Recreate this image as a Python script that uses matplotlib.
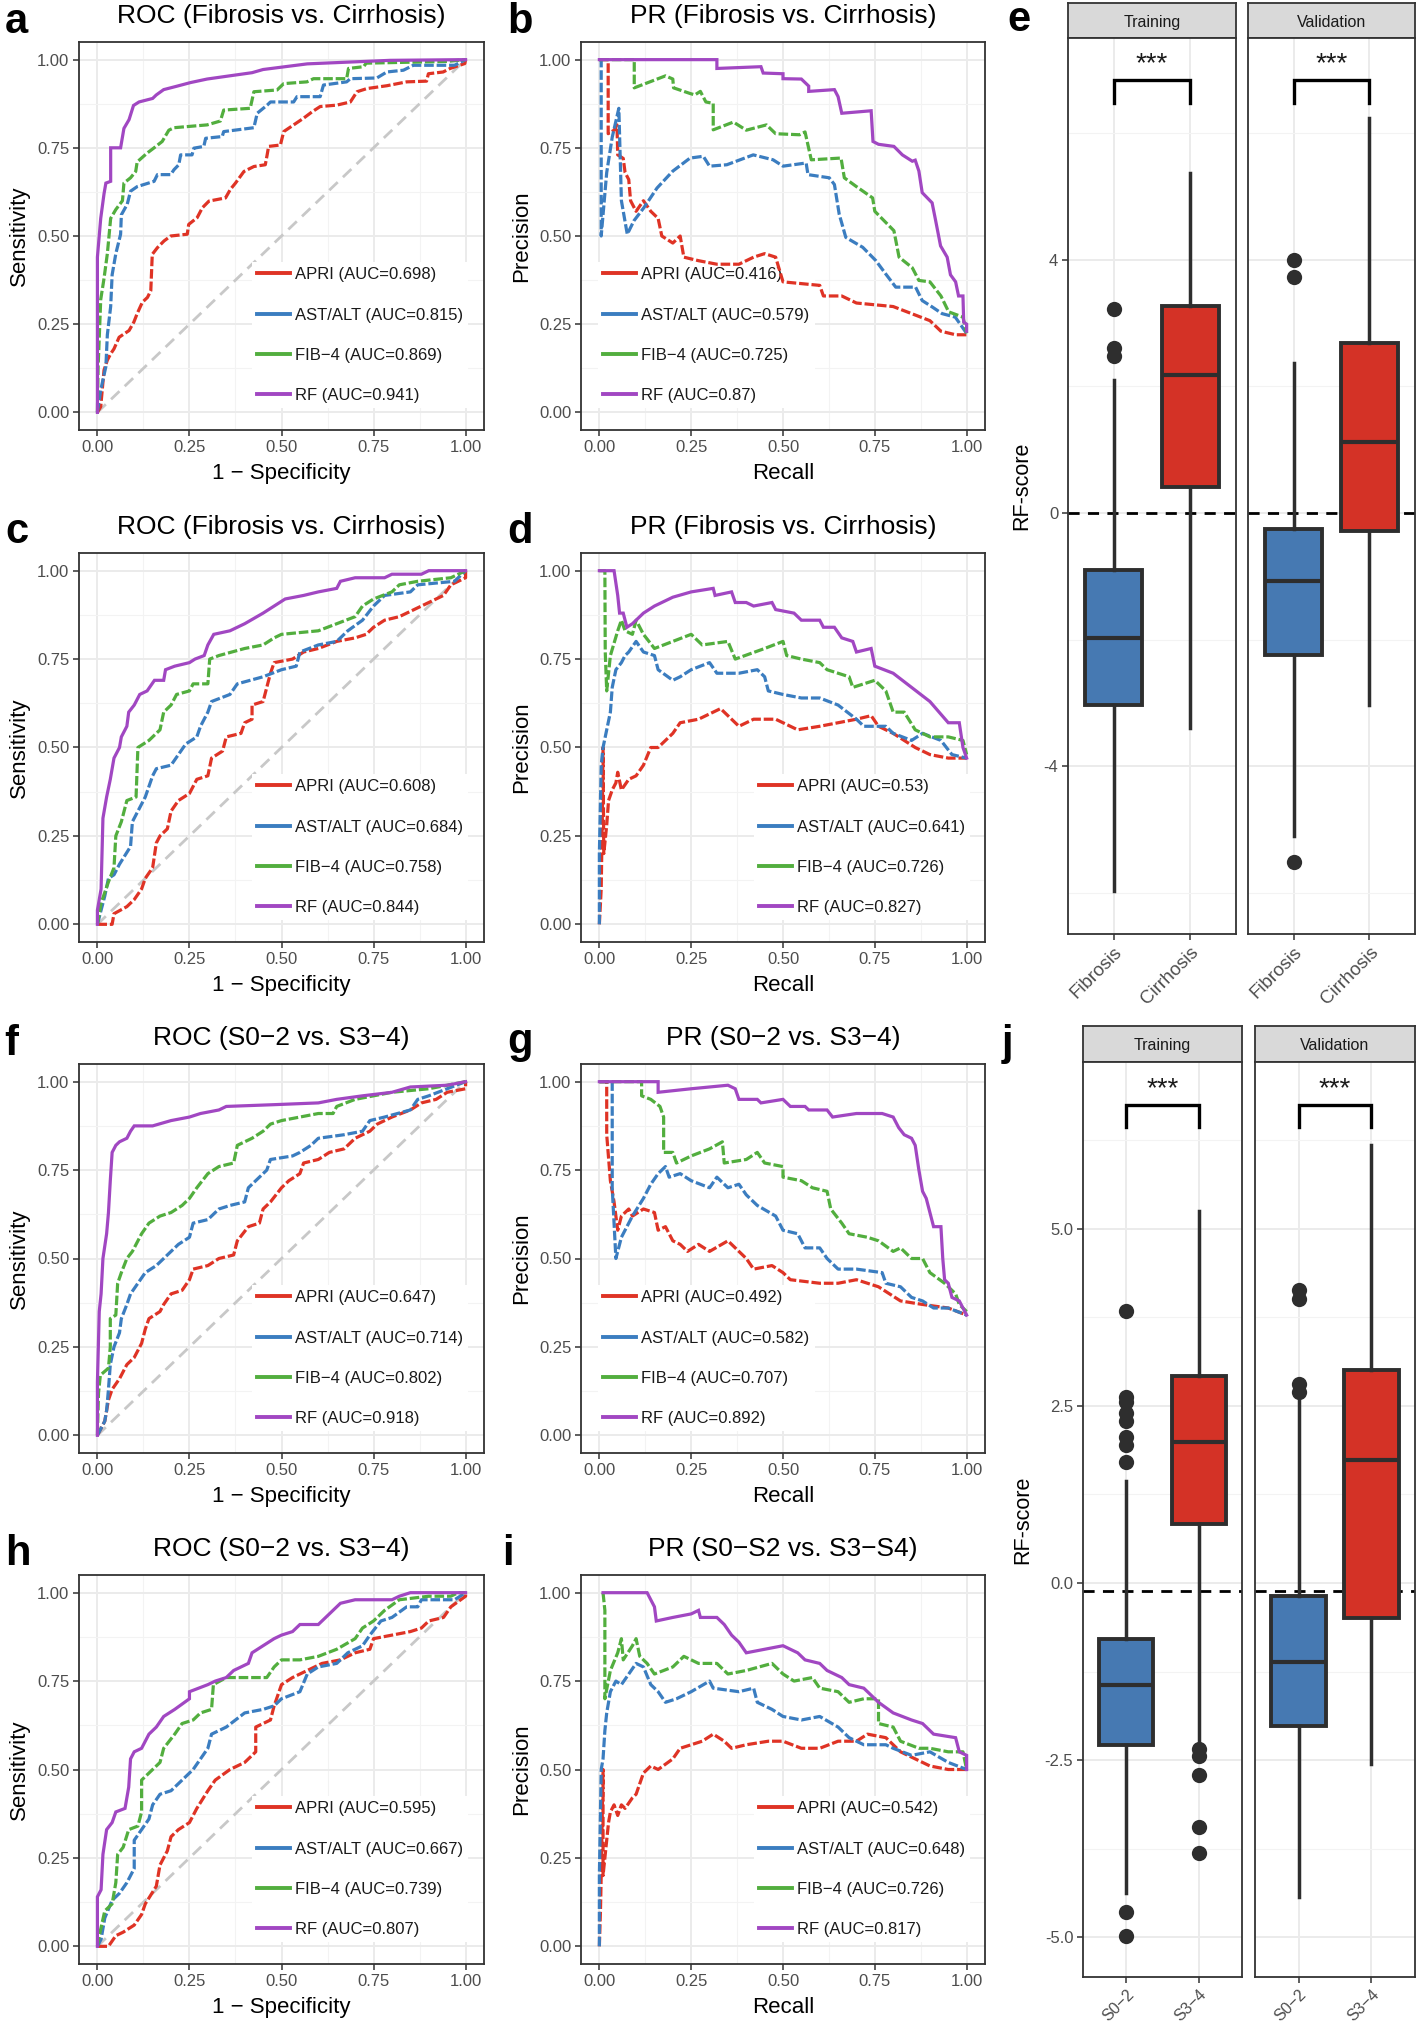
import matplotlib
matplotlib.use('Agg')
import matplotlib.pyplot as plt
from matplotlib.lines import Line2D
from matplotlib.ticker import FormatStrFormatter

plt.rcParams['font.family'] = ['Liberation Sans', 'DejaVu Sans']

# ---------------- data ----------------
methods = ['APRI', 'AST/ALT', 'FIB\u22124', 'RF']
colors = ['#DF3325', '#3B7DC0', '#52AE3E', '#A147C2']

# panel a: ROC Fibrosis vs Cirrhosis (training)
a_apri = [(0, 0), (0.009, 0.016), (0.018, 0.12), (0.027, 0.148), (0.036, 0.166), (0.045, 0.18), (0.059, 0.213),
          (0.086, 0.232), (0.099, 0.256), (0.108, 0.28), (0.122, 0.312), (0.136, 0.326), (0.145, 0.345),
          (0.149, 0.448), (0.163, 0.467), (0.181, 0.486), (0.199, 0.5), (0.244, 0.505), (0.248, 0.533),
          (0.271, 0.552), (0.285, 0.58), (0.303, 0.599), (0.348, 0.608), (0.361, 0.632), (0.375, 0.65),
          (0.398, 0.683), (0.425, 0.697), (0.456, 0.702), (0.461, 0.73), (0.465, 0.754), (0.497, 0.758),
          (0.506, 0.796), (0.533, 0.815), (0.56, 0.834), (0.583, 0.852), (0.605, 0.867), (0.65, 0.871),
          (0.687, 0.88), (0.705, 0.909), (0.732, 0.918), (0.786, 0.926), (0.84, 0.937), (0.894, 0.939),
          (0.899, 0.96), (0.939, 0.965), (0.958, 0.975), (0.998, 0.989), (1, 1)]
a_ast = [(0, 0), (0.009, 0.063), (0.023, 0.13), (0.027, 0.22), (0.036, 0.3), (0.04, 0.39), (0.05, 0.45),
         (0.063, 0.505), (0.065, 0.56), (0.081, 0.59), (0.09, 0.627), (0.108, 0.64), (0.154, 0.655),
         (0.163, 0.674), (0.199, 0.674), (0.208, 0.688), (0.221, 0.702), (0.226, 0.73), (0.257, 0.73),
         (0.262, 0.749), (0.289, 0.754), (0.294, 0.777), (0.339, 0.782), (0.343, 0.796), (0.425, 0.807),
         (0.434, 0.848), (0.461, 0.871), (0.47, 0.88), (0.533, 0.88), (0.542, 0.895), (0.605, 0.895),
         (0.614, 0.928), (0.677, 0.937), (0.687, 0.946), (0.759, 0.948), (0.786, 0.965), (0.831, 0.97),
         (0.858, 0.984), (0.97, 0.984), (1, 1)]
a_fib = [(0, 0), (0.002, 0.13), (0.009, 0.32), (0.018, 0.38), (0.027, 0.45), (0.036, 0.55), (0.05, 0.575),
         (0.068, 0.6), (0.072, 0.65), (0.09, 0.665), (0.104, 0.683), (0.108, 0.71), (0.135, 0.735),
         (0.154, 0.75), (0.176, 0.768), (0.194, 0.8), (0.208, 0.807), (0.298, 0.815), (0.334, 0.826),
         (0.343, 0.857), (0.415, 0.862), (0.425, 0.909), (0.488, 0.914), (0.506, 0.932), (0.569, 0.937),
         (0.587, 0.946), (0.677, 0.946), (0.682, 0.975), (0.723, 0.98), (0.73, 0.99), (0.95, 0.995), (1, 1)]
a_rf = [(0, 0), (0, 0.44), (0.009, 0.55), (0.018, 0.62), (0.023, 0.65), (0.036, 0.655), (0.036, 0.75),
        (0.063, 0.75), (0.072, 0.805), (0.086, 0.83), (0.098, 0.87), (0.113, 0.88), (0.15, 0.89), (0.16, 0.9),
        (0.18, 0.915), (0.217, 0.925), (0.253, 0.935), (0.298, 0.945), (0.352, 0.953), (0.42, 0.963),
        (0.45, 0.972), (0.57, 0.988), (0.795, 0.998), (1, 1)]
a_auc = ['0.698', '0.815', '0.869', '0.941']

# panel b: PR Fibrosis vs Cirrhosis (training)
b_apri = [(0, 1.0), (0.024, 1.0), (0.024, 0.79), (0.04, 0.8), (0.048, 0.815), (0.05, 0.73), (0.065, 0.72),
          (0.07, 0.68), (0.08, 0.66), (0.085, 0.6), (0.1, 0.57), (0.12, 0.6), (0.14, 0.57), (0.16, 0.55),
          (0.17, 0.5), (0.2, 0.48), (0.22, 0.5), (0.23, 0.44), (0.27, 0.43), (0.32, 0.42), (0.38, 0.42),
          (0.42, 0.44), (0.45, 0.45), (0.48, 0.44), (0.5, 0.37), (0.6, 0.36), (0.61, 0.33), (0.66, 0.33),
          (0.7, 0.31), (0.8, 0.3), (0.85, 0.28), (0.9, 0.26), (0.93, 0.23), (0.97, 0.22), (1.0, 0.22)]
b_ast = [(0, 1.0), (0.005, 1.0), (0.005, 0.5), (0.02, 0.68), (0.035, 0.78), (0.053, 0.862), (0.06, 0.6),
         (0.076, 0.505), (0.094, 0.543), (0.121, 0.58), (0.157, 0.636), (0.2, 0.684), (0.247, 0.721),
         (0.283, 0.726), (0.3, 0.698), (0.347, 0.702), (0.419, 0.73), (0.473, 0.716), (0.5, 0.698),
         (0.563, 0.707), (0.568, 0.674), (0.626, 0.665), (0.64, 0.646), (0.653, 0.562), (0.671, 0.496),
         (0.717, 0.468), (0.753, 0.43), (0.78, 0.392), (0.807, 0.355), (0.861, 0.355), (0.879, 0.317),
         (0.906, 0.299), (0.933, 0.28), (0.969, 0.27), (1.0, 0.224)]
b_fib = [(0, 1.0), (0.095, 1.0), (0.095, 0.92), (0.12, 0.93), (0.18, 0.954), (0.2, 0.945), (0.202, 0.92),
         (0.247, 0.904), (0.26, 0.9), (0.275, 0.91), (0.29, 0.88), (0.31, 0.876), (0.31, 0.801),
         (0.365, 0.823), (0.4, 0.8), (0.455, 0.815), (0.48, 0.79), (0.545, 0.787), (0.56, 0.795),
         (0.577, 0.716), (0.658, 0.721), (0.667, 0.665), (0.7, 0.64), (0.744, 0.608), (0.75, 0.57),
         (0.802, 0.515), (0.816, 0.44), (0.852, 0.41), (0.87, 0.374), (0.9, 0.37), (0.93, 0.33),
         (0.951, 0.285), (0.99, 0.27), (1.0, 0.224)]
b_rf = [(0, 1.0), (0.32, 1.0), (0.32, 0.975), (0.44, 0.98), (0.446, 0.962), (0.5, 0.96), (0.5, 0.946),
        (0.55, 0.945), (0.57, 0.925), (0.57, 0.91), (0.64, 0.915), (0.65, 0.895), (0.66, 0.848), (0.74, 0.855),
        (0.745, 0.768), (0.76, 0.76), (0.802, 0.754), (0.825, 0.73), (0.852, 0.712), (0.86, 0.715),
        (0.87, 0.684), (0.879, 0.623), (0.906, 0.594), (0.915, 0.547), (0.929, 0.472), (0.947, 0.44),
        (0.956, 0.39), (0.97, 0.37), (0.978, 0.33), (0.99, 0.33), (0.992, 0.256), (1.0, 0.25), (1.0, 0.23)]
b_auc = ['0.416', '0.579', '0.725', '0.87']

# panel c: ROC Fibrosis vs Cirrhosis (validation)
c_apri = [(0, 0), (0.02, 0.0), (0.04, 0.0), (0.045, 0.03), (0.08, 0.05), (0.1, 0.07), (0.12, 0.1), (0.13, 0.13),
          (0.15, 0.16), (0.16, 0.23), (0.17, 0.25), (0.19, 0.27), (0.2, 0.32), (0.22, 0.35), (0.25, 0.37),
          (0.27, 0.41), (0.3, 0.42), (0.31, 0.47), (0.34, 0.49), (0.35, 0.53), (0.39, 0.54), (0.4, 0.57),
          (0.42, 0.58), (0.42, 0.62), (0.45, 0.63), (0.46, 0.67), (0.47, 0.71), (0.48, 0.74), (0.53, 0.75),
          (0.56, 0.77), (0.6, 0.78), (0.65, 0.8), (0.7, 0.81), (0.73, 0.82), (0.75, 0.84), (0.78, 0.86),
          (0.82, 0.87), (0.86, 0.89), (0.9, 0.91), (0.94, 0.93), (0.96, 0.96), (1, 0.98), (1, 1)]
c_ast = [(0, 0), (0.01, 0.04), (0.02, 0.08), (0.03, 0.13), (0.045, 0.14), (0.06, 0.17), (0.09, 0.22),
         (0.095, 0.29), (0.11, 0.32), (0.13, 0.36), (0.15, 0.42), (0.16, 0.44), (0.2, 0.45), (0.22, 0.48),
         (0.24, 0.51), (0.27, 0.53), (0.28, 0.56), (0.3, 0.6), (0.31, 0.63), (0.36, 0.65), (0.38, 0.68),
         (0.45, 0.7), (0.5, 0.72), (0.54, 0.73), (0.55, 0.77), (0.6, 0.79), (0.65, 0.8), (0.68, 0.83),
         (0.72, 0.86), (0.75, 0.9), (0.78, 0.93), (0.85, 0.94), (0.87, 0.96), (0.97, 0.97), (1, 1)]
c_fib = [(0, 0), (0.01, 0.06), (0.03, 0.12), (0.045, 0.16), (0.05, 0.25), (0.065, 0.29), (0.08, 0.35),
         (0.105, 0.36), (0.11, 0.5), (0.14, 0.52), (0.17, 0.55), (0.18, 0.6), (0.2, 0.62), (0.215, 0.65),
         (0.25, 0.66), (0.26, 0.68), (0.3, 0.68), (0.305, 0.75), (0.33, 0.76), (0.4, 0.78), (0.45, 0.79),
         (0.48, 0.81), (0.5, 0.82), (0.6, 0.83), (0.65, 0.85), (0.7, 0.87), (0.72, 0.9), (0.75, 0.92),
         (0.8, 0.94), (0.82, 0.96), (0.87, 0.97), (0.96, 0.98), (0.98, 0.99), (1, 1)]
c_rf = [(0, 0), (0.0, 0.04), (0.01, 0.1), (0.015, 0.3), (0.025, 0.36), (0.035, 0.41), (0.045, 0.47), (0.06, 0.5),
        (0.065, 0.53), (0.08, 0.56), (0.085, 0.6), (0.1, 0.62), (0.115, 0.65), (0.135, 0.66), (0.155, 0.69),
        (0.18, 0.69), (0.185, 0.72), (0.21, 0.73), (0.25, 0.74), (0.265, 0.75), (0.29, 0.76), (0.3, 0.79),
        (0.316, 0.82), (0.36, 0.83), (0.4, 0.85), (0.45, 0.88), (0.48, 0.9), (0.51, 0.92), (0.56, 0.93),
        (0.6, 0.94), (0.65, 0.95), (0.66, 0.97), (0.7, 0.98), (0.78, 0.98), (0.8, 0.99), (0.88, 0.99),
        (0.9, 1.0), (1, 1)]
c_auc = ['0.608', '0.684', '0.758', '0.844']

# panel d: PR Fibrosis vs Cirrhosis (validation)
d_apri = [(0, 0.0), (0.005, 0.1), (0.008, 0.3), (0.01, 0.5), (0.012, 0.2), (0.02, 0.28), (0.025, 0.35),
          (0.035, 0.38), (0.045, 0.4), (0.05, 0.43), (0.06, 0.38), (0.08, 0.41), (0.1, 0.42), (0.12, 0.45),
          (0.14, 0.5), (0.16, 0.5), (0.2, 0.54), (0.22, 0.57), (0.27, 0.58), (0.31, 0.6), (0.33, 0.61),
          (0.36, 0.58), (0.38, 0.56), (0.42, 0.58), (0.48, 0.58), (0.52, 0.56), (0.54, 0.55), (0.6, 0.56),
          (0.65, 0.57), (0.7, 0.58), (0.74, 0.59), (0.76, 0.56), (0.8, 0.54), (0.83, 0.52), (0.86, 0.5),
          (0.9, 0.48), (0.95, 0.47), (1, 0.47)]
d_ast = [(0, 0.0), (0.0, 0.2), (0.005, 0.45), (0.01, 0.5), (0.02, 0.55), (0.03, 0.6), (0.035, 0.67),
         (0.045, 0.72), (0.06, 0.74), (0.07, 0.76), (0.08, 0.77), (0.1, 0.8), (0.12, 0.77), (0.15, 0.76),
         (0.16, 0.72), (0.2, 0.69), (0.22, 0.7), (0.25, 0.72), (0.3, 0.74), (0.32, 0.71), (0.38, 0.71),
         (0.43, 0.72), (0.45, 0.7), (0.46, 0.66), (0.5, 0.65), (0.55, 0.64), (0.6, 0.64), (0.65, 0.62),
         (0.7, 0.58), (0.72, 0.56), (0.78, 0.56), (0.8, 0.54), (0.85, 0.52), (0.88, 0.54), (0.93, 0.52),
         (0.96, 0.48), (1, 0.47)]
d_fib = [(0, 1.0), (0.015, 1.0), (0.016, 0.77), (0.02, 0.66), (0.03, 0.76), (0.05, 0.83), (0.06, 0.86),
         (0.07, 0.83), (0.09, 0.82), (0.1, 0.86), (0.12, 0.82), (0.15, 0.78), (0.2, 0.8), (0.25, 0.82),
         (0.28, 0.79), (0.35, 0.8), (0.37, 0.75), (0.45, 0.78), (0.5, 0.8), (0.51, 0.76), (0.55, 0.75),
         (0.6, 0.74), (0.62, 0.72), (0.68, 0.7), (0.69, 0.67), (0.75, 0.69), (0.78, 0.66), (0.8, 0.6),
         (0.83, 0.6), (0.86, 0.55), (0.9, 0.53), (0.95, 0.53), (0.99, 0.52), (1, 0.48)]
d_rf = [(0, 1.0), (0.04, 1.0), (0.05, 0.93), (0.055, 0.88), (0.065, 0.88), (0.075, 0.84), (0.09, 0.85),
        (0.12, 0.88), (0.15, 0.9), (0.2, 0.925), (0.25, 0.94), (0.31, 0.95), (0.315, 0.93), (0.36, 0.94),
        (0.37, 0.91), (0.4, 0.91), (0.42, 0.9), (0.47, 0.91), (0.48, 0.89), (0.53, 0.88), (0.55, 0.86),
        (0.6, 0.86), (0.61, 0.84), (0.64, 0.84), (0.66, 0.81), (0.69, 0.8), (0.7, 0.77), (0.74, 0.78),
        (0.75, 0.73), (0.8, 0.71), (0.85, 0.67), (0.9, 0.63), (0.95, 0.57), (0.98, 0.57), (0.99, 0.5),
        (1.0, 0.47)]
d_auc = ['0.53', '0.641', '0.726', '0.827']

# panel f: ROC S0-2 vs S3-4 (training)
f_apri = [(0, 0), (0.01, 0.02), (0.02, 0.04), (0.03, 0.1), (0.04, 0.13), (0.06, 0.16), (0.08, 0.2), (0.1, 0.22),
          (0.12, 0.26), (0.13, 0.3), (0.14, 0.33), (0.17, 0.35), (0.18, 0.37), (0.2, 0.4), (0.23, 0.41),
          (0.25, 0.44), (0.26, 0.47), (0.3, 0.48), (0.33, 0.5), (0.37, 0.51), (0.38, 0.55), (0.41, 0.59),
          (0.44, 0.6), (0.45, 0.64), (0.47, 0.66), (0.5, 0.7), (0.52, 0.72), (0.55, 0.74), (0.56, 0.77),
          (0.6, 0.78), (0.63, 0.8), (0.67, 0.81), (0.7, 0.84), (0.74, 0.86), (0.76, 0.88), (0.8, 0.9),
          (0.85, 0.92), (0.88, 0.94), (0.92, 0.95), (0.95, 0.97), (1, 0.98), (1, 1)]
f_ast = [(0, 0), (0.02, 0.04), (0.025, 0.07), (0.03, 0.13), (0.035, 0.2), (0.045, 0.25), (0.06, 0.29),
         (0.065, 0.33), (0.08, 0.37), (0.09, 0.4), (0.11, 0.43), (0.13, 0.46), (0.16, 0.48), (0.2, 0.52),
         (0.22, 0.54), (0.25, 0.56), (0.26, 0.6), (0.3, 0.61), (0.33, 0.64), (0.36, 0.65), (0.4, 0.66),
         (0.41, 0.7), (0.43, 0.72), (0.46, 0.75), (0.47, 0.78), (0.53, 0.79), (0.55, 0.8), (0.58, 0.82),
         (0.6, 0.84), (0.67, 0.85), (0.72, 0.86), (0.74, 0.89), (0.78, 0.9), (0.85, 0.92), (0.87, 0.95),
         (0.9, 0.96), (0.95, 0.98), (1, 1)]
f_fib = [(0, 0), (0.003, 0.12), (0.008, 0.17), (0.03, 0.19), (0.035, 0.25), (0.035, 0.33), (0.05, 0.34),
         (0.055, 0.43), (0.065, 0.46), (0.08, 0.5), (0.095, 0.52), (0.12, 0.57), (0.14, 0.6), (0.17, 0.62),
         (0.2, 0.63), (0.23, 0.65), (0.25, 0.67), (0.27, 0.7), (0.3, 0.74), (0.33, 0.76), (0.37, 0.77),
         (0.38, 0.82), (0.42, 0.84), (0.45, 0.86), (0.47, 0.88), (0.5, 0.89), (0.55, 0.9), (0.6, 0.91),
         (0.64, 0.91), (0.65, 0.93), (0.7, 0.95), (0.75, 0.96), (0.8, 0.97), (0.9, 0.98), (0.95, 0.99), (1, 1)]
f_rf = [(0, 0), (0, 0.15), (0.005, 0.35), (0.01, 0.4), (0.015, 0.5), (0.025, 0.57), (0.03, 0.63), (0.035, 0.72),
        (0.04, 0.8), (0.05, 0.82), (0.06, 0.83), (0.08, 0.84), (0.09, 0.86), (0.1, 0.875), (0.15, 0.875),
        (0.2, 0.89), (0.25, 0.9), (0.28, 0.91), (0.33, 0.92), (0.35, 0.93), (0.48, 0.935), (0.6, 0.94),
        (0.65, 0.95), (0.72, 0.96), (0.8, 0.97), (0.85, 0.985), (0.95, 0.99), (1, 1)]
f_auc = ['0.647', '0.714', '0.802', '0.918']

# panel g: PR S0-2 vs S3-4 (training)
g_apri = [(0, 1.0), (0.02, 1.0), (0.02, 0.85), (0.03, 0.72), (0.04, 0.66), (0.05, 0.58), (0.06, 0.62),
          (0.08, 0.64), (0.09, 0.62), (0.12, 0.64), (0.15, 0.63), (0.16, 0.58), (0.18, 0.59), (0.2, 0.55),
          (0.22, 0.54), (0.24, 0.52), (0.27, 0.54), (0.3, 0.52), (0.35, 0.55), (0.38, 0.52), (0.4, 0.5),
          (0.42, 0.47), (0.47, 0.48), (0.5, 0.46), (0.52, 0.44), (0.6, 0.43), (0.65, 0.43), (0.7, 0.44),
          (0.76, 0.42), (0.79, 0.4), (0.82, 0.38), (0.88, 0.37), (0.95, 0.36), (1, 0.34)]
g_ast = [(0, 1.0), (0.035, 1.0), (0.035, 0.7), (0.04, 0.6), (0.045, 0.5), (0.05, 0.52), (0.06, 0.56),
         (0.07, 0.58), (0.09, 0.62), (0.12, 0.67), (0.14, 0.71), (0.16, 0.74), (0.18, 0.76), (0.19, 0.73),
         (0.22, 0.74), (0.25, 0.72), (0.3, 0.7), (0.32, 0.73), (0.35, 0.7), (0.38, 0.71), (0.4, 0.68),
         (0.43, 0.65), (0.48, 0.62), (0.5, 0.58), (0.54, 0.57), (0.56, 0.53), (0.6, 0.53), (0.62, 0.5),
         (0.65, 0.47), (0.7, 0.47), (0.77, 0.46), (0.78, 0.43), (0.82, 0.42), (0.85, 0.39), (0.88, 0.38),
         (0.91, 0.36), (0.95, 0.36), (1, 0.34)]
g_fib = [(0, 1.0), (0.115, 1.0), (0.115, 0.96), (0.14, 0.95), (0.165, 0.93), (0.175, 0.9), (0.175, 0.8),
         (0.2, 0.8), (0.21, 0.77), (0.25, 0.79), (0.3, 0.81), (0.335, 0.83), (0.34, 0.77), (0.4, 0.78),
         (0.43, 0.8), (0.45, 0.77), (0.5, 0.76), (0.5, 0.73), (0.55, 0.72), (0.58, 0.7), (0.62, 0.69),
         (0.63, 0.64), (0.66, 0.6), (0.68, 0.57), (0.73, 0.56), (0.76, 0.55), (0.8, 0.52), (0.82, 0.53),
         (0.85, 0.5), (0.88, 0.5), (0.9, 0.46), (0.94, 0.43), (0.97, 0.4), (0.98, 0.37), (1, 0.35)]
g_rf = [(0, 1.0), (0.16, 1.0), (0.16, 0.97), (0.25, 0.98), (0.35, 0.99), (0.37, 0.98), (0.38, 0.95),
        (0.43, 0.95), (0.44, 0.94), (0.5, 0.95), (0.52, 0.93), (0.56, 0.93), (0.57, 0.92), (0.62, 0.92),
        (0.635, 0.9), (0.7, 0.91), (0.77, 0.91), (0.8, 0.9), (0.815, 0.87), (0.83, 0.85), (0.85, 0.84),
        (0.86, 0.82), (0.87, 0.75), (0.88, 0.69), (0.89, 0.67), (0.9, 0.63), (0.91, 0.59), (0.93, 0.59),
        (0.935, 0.5), (0.94, 0.44), (0.95, 0.43), (0.96, 0.39), (0.98, 0.38), (0.99, 0.36), (1, 0.34)]
g_auc = ['0.492', '0.582', '0.707', '0.892']

# panel h: ROC S0-2 vs S3-4 (validation)
h_apri = [(0, 0), (0.03, 0.0), (0.05, 0.03), (0.07, 0.04), (0.1, 0.06), (0.12, 0.09), (0.13, 0.12), (0.16, 0.17),
          (0.17, 0.23), (0.19, 0.27), (0.2, 0.31), (0.22, 0.33), (0.25, 0.35), (0.27, 0.39), (0.3, 0.44),
          (0.32, 0.47), (0.36, 0.5), (0.4, 0.52), (0.43, 0.55), (0.43, 0.62), (0.47, 0.64), (0.48, 0.68),
          (0.5, 0.74), (0.53, 0.76), (0.57, 0.78), (0.61, 0.8), (0.66, 0.81), (0.7, 0.83), (0.74, 0.84),
          (0.75, 0.87), (0.8, 0.88), (0.85, 0.89), (0.88, 0.9), (0.9, 0.92), (0.94, 0.93), (0.96, 0.96),
          (1, 0.99), (1, 1)]
h_ast = [(0, 0), (0.01, 0.02), (0.02, 0.08), (0.04, 0.13), (0.06, 0.15), (0.08, 0.18), (0.1, 0.22), (0.1, 0.3),
         (0.12, 0.33), (0.14, 0.36), (0.15, 0.4), (0.17, 0.43), (0.2, 0.44), (0.23, 0.47), (0.26, 0.5),
         (0.28, 0.53), (0.3, 0.56), (0.31, 0.6), (0.35, 0.62), (0.4, 0.66), (0.45, 0.67), (0.48, 0.68),
         (0.5, 0.7), (0.55, 0.72), (0.57, 0.77), (0.6, 0.79), (0.65, 0.8), (0.68, 0.83), (0.72, 0.85),
         (0.74, 0.88), (0.77, 0.92), (0.8, 0.93), (0.84, 0.96), (0.87, 0.96), (0.88, 0.98), (0.97, 0.98), (1, 1)]
h_fib = [(0, 0), (0.005, 0.03), (0.02, 0.1), (0.04, 0.12), (0.05, 0.18), (0.055, 0.26), (0.07, 0.28),
         (0.085, 0.33), (0.11, 0.34), (0.12, 0.38), (0.12, 0.47), (0.14, 0.49), (0.17, 0.52), (0.18, 0.56),
         (0.21, 0.6), (0.23, 0.63), (0.26, 0.64), (0.28, 0.66), (0.31, 0.67), (0.315, 0.74), (0.35, 0.76),
         (0.46, 0.76), (0.48, 0.79), (0.5, 0.81), (0.55, 0.81), (0.6, 0.82), (0.65, 0.84), (0.7, 0.87),
         (0.72, 0.9), (0.75, 0.92), (0.78, 0.95), (0.82, 0.98), (0.9, 0.99), (0.96, 0.99), (0.98, 1.0), (1, 1)]
h_rf = [(0, 0), (0, 0.14), (0.01, 0.16), (0.015, 0.26), (0.025, 0.33), (0.04, 0.35), (0.05, 0.38), (0.075, 0.39),
        (0.085, 0.45), (0.09, 0.53), (0.1, 0.55), (0.12, 0.56), (0.14, 0.6), (0.16, 0.62), (0.18, 0.65),
        (0.21, 0.67), (0.25, 0.7), (0.25, 0.72), (0.3, 0.74), (0.32, 0.75), (0.35, 0.76), (0.37, 0.78),
        (0.41, 0.8), (0.42, 0.83), (0.45, 0.85), (0.48, 0.87), (0.5, 0.88), (0.53, 0.89), (0.55, 0.91),
        (0.6, 0.91), (0.62, 0.93), (0.64, 0.95), (0.66, 0.97), (0.7, 0.98), (0.8, 0.98), (0.82, 0.99),
        (0.85, 1.0), (1, 1)]
h_auc = ['0.595', '0.667', '0.739', '0.807']

# panel i: PR S0-S2 vs S3-S4 (validation)
i_apri = [(0, 0.0), (0.003, 0.1), (0.005, 0.2), (0.01, 0.5), (0.01, 0.2), (0.015, 0.25), (0.02, 0.3),
          (0.025, 0.35), (0.03, 0.38), (0.04, 0.4), (0.05, 0.37), (0.06, 0.4), (0.07, 0.39), (0.09, 0.42),
          (0.1, 0.43), (0.12, 0.49), (0.14, 0.51), (0.16, 0.5), (0.2, 0.53), (0.22, 0.56), (0.25, 0.57),
          (0.28, 0.58), (0.31, 0.6), (0.34, 0.58), (0.36, 0.56), (0.4, 0.57), (0.46, 0.58), (0.5, 0.58),
          (0.55, 0.56), (0.6, 0.56), (0.65, 0.58), (0.7, 0.58), (0.73, 0.6), (0.78, 0.59), (0.82, 0.55),
          (0.86, 0.53), (0.9, 0.51), (0.95, 0.5), (1, 0.5)]
i_ast = [(0, 0.0), (0.0, 0.2), (0.005, 0.5), (0.01, 0.53), (0.015, 0.61), (0.02, 0.66), (0.03, 0.72),
         (0.045, 0.75), (0.06, 0.74), (0.08, 0.77), (0.1, 0.8), (0.12, 0.79), (0.14, 0.74), (0.16, 0.72),
         (0.18, 0.69), (0.21, 0.7), (0.25, 0.72), (0.3, 0.75), (0.31, 0.73), (0.38, 0.72), (0.42, 0.73),
         (0.43, 0.69), (0.47, 0.67), (0.5, 0.65), (0.55, 0.64), (0.6, 0.65), (0.65, 0.62), (0.68, 0.59),
         (0.72, 0.57), (0.78, 0.57), (0.8, 0.56), (0.85, 0.54), (0.9, 0.55), (0.95, 0.52), (1, 0.5)]
i_fib = [(0.01, 1.0), (0.015, 0.95), (0.015, 0.7), (0.03, 0.78), (0.05, 0.83), (0.06, 0.87), (0.065, 0.81),
         (0.09, 0.85), (0.1, 0.87), (0.11, 0.82), (0.13, 0.8), (0.15, 0.77), (0.2, 0.79), (0.23, 0.82),
         (0.27, 0.8), (0.32, 0.8), (0.35, 0.77), (0.4, 0.78), (0.47, 0.8), (0.5, 0.77), (0.53, 0.75),
         (0.58, 0.76), (0.6, 0.73), (0.65, 0.72), (0.68, 0.69), (0.72, 0.7), (0.76, 0.7), (0.76, 0.63),
         (0.8, 0.62), (0.82, 0.58), (0.87, 0.56), (0.9, 0.56), (0.95, 0.55), (0.99, 0.55), (1, 0.5)]
i_rf = [(0.01, 1.0), (0.13, 1.0), (0.15, 0.96), (0.155, 0.92), (0.2, 0.93), (0.25, 0.94), (0.27, 0.95),
        (0.275, 0.93), (0.32, 0.93), (0.34, 0.91), (0.36, 0.88), (0.38, 0.86), (0.4, 0.83), (0.45, 0.84),
        (0.5, 0.85), (0.54, 0.83), (0.56, 0.81), (0.6, 0.8), (0.62, 0.78), (0.66, 0.76), (0.68, 0.74),
        (0.72, 0.73), (0.74, 0.71), (0.76, 0.69), (0.8, 0.66), (0.85, 0.64), (0.88, 0.63), (0.91, 0.6),
        (0.97, 0.59), (0.98, 0.55), (1, 0.54), (1, 0.5)]
i_auc = ['0.542', '0.648', '0.726', '0.817']

# panel e: RF-score boxplots, Fibrosis vs Cirrhosis
e_groups = ['Fibrosis', 'Cirrhosis']
e_train_q1 = [-3.03, 0.41]
e_train_med = [-1.97, 2.18]
e_train_q3 = [-0.90, 3.27]
e_train_lo = [-5.97, -3.39]
e_train_hi = [2.10, 5.37]
e_train_out = [[2.48, 2.60, 3.22], []]
e_valid_q1 = [-2.24, -0.28]
e_valid_med = [-1.08, 1.12]
e_valid_q3 = [-0.25, 2.69]
e_valid_lo = [-5.11, -3.03]
e_valid_hi = [2.37, 6.23]
e_valid_out = [[-5.52, 3.73, 4.00], []]
e_cutoff = 0.0

# panel j: RF-score boxplots, S0-2 vs S3-4
j_groups = ['S0\u22122', 'S3\u22124']
j_train_q1 = [-2.28, 0.83]
j_train_med = [-1.44, 1.99]
j_train_q3 = [-0.79, 2.92]
j_train_lo = [-4.38, -2.25]
j_train_hi = [1.44, 5.25]
j_train_out = [[3.83, 2.63, 2.55, 2.40, 2.29, 2.06, 1.94, 1.70, -4.64, -4.98],
               [-2.34, -2.44, -2.71, -3.45, -3.81]]
j_valid_q1 = [-2.02, -0.49]
j_valid_med = [-1.11, 1.73]
j_valid_q3 = [-0.19, 3.01]
j_valid_lo = [-4.43, -2.56]
j_valid_hi = [2.56, 6.18]
j_valid_out = [[4.14, 4.00, 2.81, 2.70], []]
j_cutoff = -0.12

# ---------------- drawing ----------------
W, H = 1418, 2025
fig = plt.figure(figsize=(W / 100, H / 100), dpi=100)
fig.patch.set_facecolor('white')

BORDER = '#333333'
TICKTXT = '#4D4D4D'
GRID = '#EBEBEB'


def px_axes(x0, y0, x1, y1):
    return fig.add_axes([x0 / W, 1 - y1 / H, (x1 - x0) / W, (y1 - y0) / H])


def letter(x, y, s):
    fig.text(x / W, 1 - y / H, s, fontsize=30, fontweight='bold', va='baseline', ha='left')


def style_axes(ax, labelsize=12):
    for sp in ax.spines.values():
        sp.set_color(BORDER)
        sp.set_linewidth(1.3)
    ax.tick_params(which='major', length=4, width=1.1, color=BORDER, labelcolor=TICKTXT,
                   labelsize=labelsize, pad=3)
    ax.tick_params(which='minor', length=0)
    ax.grid(True, which='major', color=GRID, lw=1.4, zorder=0)
    ax.grid(True, which='minor', color='#F3F3F3', lw=0.8, zorder=0)
    ax.set_axisbelow(True)


def curve_panel(box, title, roc, curves, aucs, legend_left):
    ax = px_axes(*box)
    ax.set_xlim(-0.05, 1.05)
    ax.set_ylim(-0.05, 1.05)
    ticks = [0, 0.25, 0.5, 0.75, 1.0]
    ax.set_xticks(ticks)
    ax.set_yticks(ticks)
    ax.set_xticks([0.125, 0.375, 0.625, 0.875], minor=True)
    ax.set_yticks([0.125, 0.375, 0.625, 0.875], minor=True)
    ax.xaxis.set_major_formatter(FormatStrFormatter('%.2f'))
    ax.yaxis.set_major_formatter(FormatStrFormatter('%.2f'))
    style_axes(ax)
    if roc:
        ax.plot([0, 1], [0, 1], color='#C8C8C8', lw=2.0, ls=(0, (4.2, 2.6)), zorder=1)
        ax.set_xlabel('1 \u2212 Specificity', fontsize=16, labelpad=6)
        ax.set_ylabel('Sensitivity', fontsize=16, labelpad=5)
    else:
        ax.set_xlabel('Recall', fontsize=16, labelpad=6)
        ax.set_ylabel('Precision', fontsize=16, labelpad=5)
    for k, (pts, col) in enumerate(zip(curves, colors)):
        xs = [p[0] for p in pts]
        ys = [p[1] for p in pts]
        ls = '-' if k == 3 else (0, (3.0, 0.9))
        ax.plot(xs, ys, color=col, lw=2.3, ls=ls, zorder=6, solid_joinstyle='miter')
    ax.set_title(title, fontsize=19, pad=14)
    handles = [Line2D([], [], color=c, lw=2.8) for c in colors]
    labels = ['%s (AUC=%s)' % (m, a) for m, a in zip(methods, aucs)]
    anchor = (0.042, 0.056) if legend_left else (0.427, 0.056)
    leg = ax.legend(handles, labels, loc='lower left', bbox_to_anchor=anchor, fontsize=12,
                    handlelength=2.0, handletextpad=0.3, labelspacing=1.52, borderpad=0.3,
                    borderaxespad=0, frameon=True, fancybox=False)
    leg.get_frame().set_facecolor('white')
    leg.get_frame().set_edgecolor('none')
    leg.get_frame().set_alpha(1)
    leg.set_zorder(5)
    for t in leg.get_texts():
        t.set_color('#1A1A1A')
    return ax


def box_stats(q1, med, q3, lo, hi, out):
    return [dict(q1=q1[k], med=med[k], q3=q3[k], whislo=lo[k], whishi=hi[k], fliers=out[k])
            for k in range(len(med))]


def box_facet(x0, x1, strip_top, strip_bot, bottom, stats, groups, strip_label, ylim, majors, minors,
              fmt, cutoff, bracket, star_y, first, xlab_size):
    sax = px_axes(x0, strip_top, x1, strip_bot)
    sax.set_facecolor('#D9D9D9')
    sax.set_xticks([])
    sax.set_yticks([])
    for sp in sax.spines.values():
        sp.set_color(BORDER)
        sp.set_linewidth(1.3)
    sax.text(0.5, 0.45, strip_label, ha='center', va='center', fontsize=11.5, color='#1A1A1A',
             transform=sax.transAxes)

    ax = px_axes(x0, strip_bot, x1, bottom)
    ax.set_xlim(0.4, 2.6)
    ax.set_ylim(*ylim)
    ax.set_xticks([1, 2])
    ax.set_yticks(majors)
    ax.set_yticks(minors, minor=True)
    style_axes(ax, labelsize=12)
    ax.grid(False, which='minor', axis='x')
    ax.set_xticklabels(groups, rotation=45, ha='right', rotation_mode='anchor', fontsize=xlab_size)
    ax.tick_params(axis='x', pad=3)
    if first:
        ax.set_yticklabels([fmt % v for v in majors])
        ax.set_ylabel('RF-score', fontsize=15.5, labelpad=8)
    else:
        ax.set_yticklabels([])
        ax.tick_params(axis='y', length=0)
    ax.axhline(cutoff, color='black', lw=2.0, ls=(0, (4, 3)), zorder=2)
    ax.bxp(stats, positions=[1, 2], widths=0.75, patch_artist=True, showcaps=False,
           manage_ticks=False, zorder=3,
           boxprops=dict(edgecolor='#2E2E2E', lw=2.8),
           medianprops=dict(color='#2E2E2E', lw=3.0),
           whiskerprops=dict(color='#2E2E2E', lw=2.5),
           flierprops=dict(marker='o', markerfacecolor='#2E2E2E', markeredgecolor='none', markersize=11))
    for patch, fc in zip(ax.patches, ['#4679B2', '#D43226']):
        patch.set_facecolor(fc)
    ax.plot([1, 1, 2, 2], [bracket[0], bracket[1], bracket[1], bracket[0]], color='black', lw=2.4,
            solid_joinstyle='miter', zorder=4)
    ax.text(1.5, star_y, '***', ha='center', va='baseline', fontsize=20, color='#1A1A1A')
    return ax


# ROC / PR panels
curve_panel((79, 42, 484, 430), 'ROC (Fibrosis vs. Cirrhosis)', True, [a_apri, a_ast, a_fib, a_rf], a_auc, False)
curve_panel((581, 42, 985, 430), 'PR (Fibrosis vs. Cirrhosis)', False, [b_apri, b_ast, b_fib, b_rf], b_auc, True)
curve_panel((79, 553, 484, 942), 'ROC (Fibrosis vs. Cirrhosis)', True, [c_apri, c_ast, c_fib, c_rf], c_auc, False)
curve_panel((581, 553, 985, 942), 'PR (Fibrosis vs. Cirrhosis)', False, [d_apri, d_ast, d_fib, d_rf], d_auc, False)
curve_panel((79, 1064, 484, 1453), 'ROC (S0\u22122 vs. S3\u22124)', True, [f_apri, f_ast, f_fib, f_rf], f_auc, False)
curve_panel((581, 1064, 985, 1453), 'PR (S0\u22122 vs. S3\u22124)', False, [g_apri, g_ast, g_fib, g_rf], g_auc, True)
curve_panel((79, 1575, 484, 1964), 'ROC (S0\u22122 vs. S3\u22124)', True, [h_apri, h_ast, h_fib, h_rf], h_auc, False)
curve_panel((581, 1575, 985, 1964), 'PR (S0\u2212S2 vs. S3\u2212S4)', False, [i_apri, i_ast, i_fib, i_rf], i_auc, False)

# box panels e
e_lim = (-6.65, 7.5)
box_facet(1068, 1236, 3, 38, 934, box_stats(e_train_q1, e_train_med, e_train_q3, e_train_lo, e_train_hi, e_train_out),
          e_groups, 'Training', e_lim, [-4, 0, 4], [-6, -2, 2, 6], '%g', e_cutoff, (6.48, 6.83), 6.98, True, 13.5)
box_facet(1248, 1415, 3, 38, 934, box_stats(e_valid_q1, e_valid_med, e_valid_q3, e_valid_lo, e_valid_hi, e_valid_out),
          e_groups, 'Validation', e_lim, [-4, 0, 4], [-6, -2, 2, 6], '%g', e_cutoff, (6.48, 6.83), 6.98, False, 13.5)

# box panels j
j_lim = (-5.56, 7.35)
box_facet(1083, 1242, 1026, 1062, 1977, box_stats(j_train_q1, j_train_med, j_train_q3, j_train_lo, j_train_hi, j_train_out),
          j_groups, 'Training', j_lim, [-5, -2.5, 0, 2.5, 5], [-3.75, -1.25, 1.25, 3.75, 6.25], '%.1f', j_cutoff,
          (6.43, 6.75), 6.87, True, 11.5)
box_facet(1255, 1415, 1026, 1062, 1977, box_stats(j_valid_q1, j_valid_med, j_valid_q3, j_valid_lo, j_valid_hi, j_valid_out),
          j_groups, 'Validation', j_lim, [-5, -2.5, 0, 2.5, 5], [-3.75, -1.25, 1.25, 3.75, 6.25], '%.1f', j_cutoff,
          (6.43, 6.75), 6.87, False, 11.5)

# panel letters
letter(5, 33, 'a')
letter(507, 33, 'b')
letter(5, 543, 'c')
letter(507, 543, 'd')
letter(1007, 31, 'e')
letter(4, 1055, 'f')
letter(507, 1053, 'g')
letter(5, 1565, 'h')
letter(502, 1565, 'i')
letter(1002, 1055, 'j')

fig.savefig('out.png', dpi=100, facecolor='white')
